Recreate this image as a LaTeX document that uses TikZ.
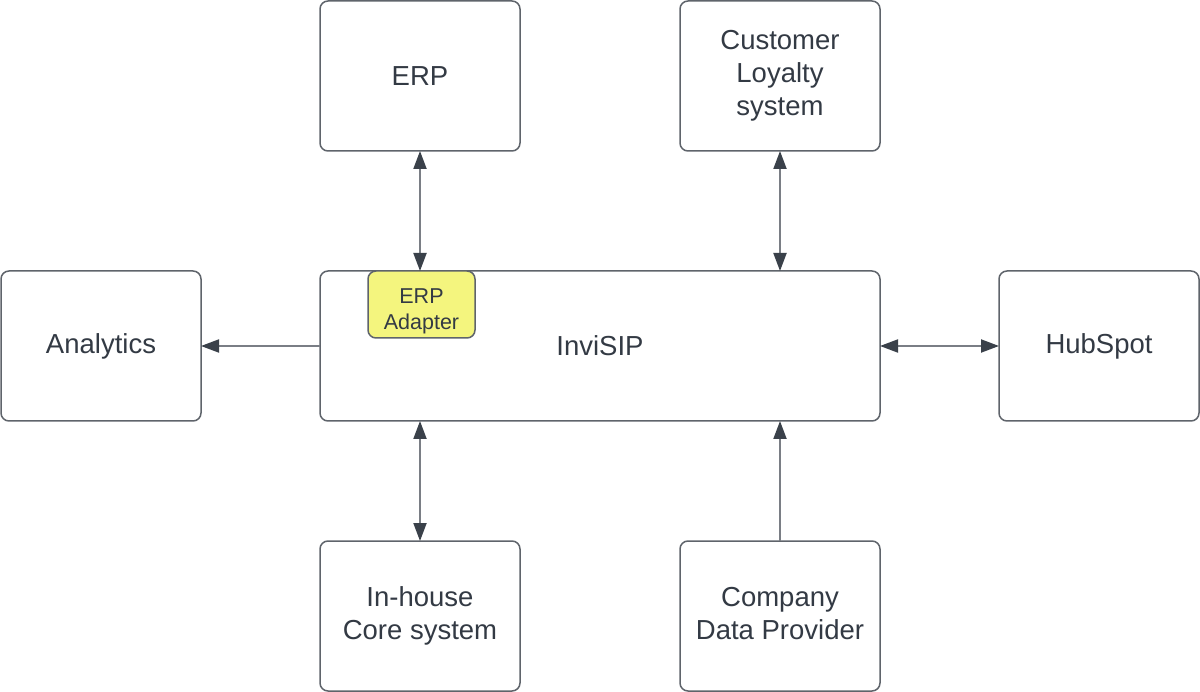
\documentclass[tikz,border=0pt]{standalone}
\usepackage{fontspec}
\setmainfont{Liberation Sans}
\usetikzlibrary{arrows.meta}
\definecolor{boxline}{HTML}{5F646B}
\definecolor{arrline}{HTML}{7A7E85}
\definecolor{tipcol}{HTML}{3A414A}
\definecolor{txt}{HTML}{333A44}
\definecolor{adapterfill}{HTML}{F4F57E}
\tikzset{
  sysbox/.style={draw=boxline, line width=1.5pt, rounded corners=8pt, fill=white,
    minimum width=200pt, minimum height=150pt, align=center, text=txt,
    font=\fontsize{27.5}{33}\selectfont, inner sep=0pt, outer sep=0pt},
  adapterbox/.style={draw=boxline, line width=1.5pt, rounded corners=8pt, fill=adapterfill,
    minimum width=107pt, minimum height=67pt, inner sep=0pt, outer sep=0pt},
  adaptertext/.style={align=center, text=txt, font=\fontsize{21.5}{26}\selectfont, inner sep=0pt},
  conn/.style={draw=arrline, line width=2pt},
  tip/.tip={Triangle[length=18pt,width=13pt,color=tipcol]},
}
\begin{document}
\begin{tikzpicture}[x=1pt,y=-1pt]
\useasboundingbox (0,0) rectangle (1200,692);
\node[sysbox] (erp) at (420,76) {ERP};
\node[sysbox] (loyalty) at (780,76) {Customer\\Loyalty\\system};
\node[sysbox] (analytics) at (101,346) {Analytics};
\node[sysbox, minimum width=560pt] (invisip) at (600,346) {InviSIP};
\node[sysbox] (hubspot) at (1099,346) {HubSpot};
\node[sysbox] (inhouse) at (420,616) {In-house\\Core system};
\node[sysbox] (company) at (780,616) {\raisebox{3pt}{\begin{tabular}{@{}c@{}}Company\\Data Provider\end{tabular}}};
\node[adapterbox] (adapter) at (421.5,304.5) {};
\node[adaptertext] (adaptertxt) at (421.5,311) {ERP\\Adapter};

\draw[conn, tip-tip] (erp.south) -- (erp.south |- invisip.north);
\draw[conn, tip-tip] (loyalty.south) -- (loyalty.south |- invisip.north);
\draw[conn, -tip] (invisip.west) -- (analytics.east);
\draw[conn, tip-tip] (invisip.east) -- (hubspot.west);
\draw[conn, tip-tip] (inhouse.north) -- (inhouse.north |- invisip.south);
\draw[conn, -tip] (company.north) -- (company.north |- invisip.south);
\end{tikzpicture}
\end{document}
